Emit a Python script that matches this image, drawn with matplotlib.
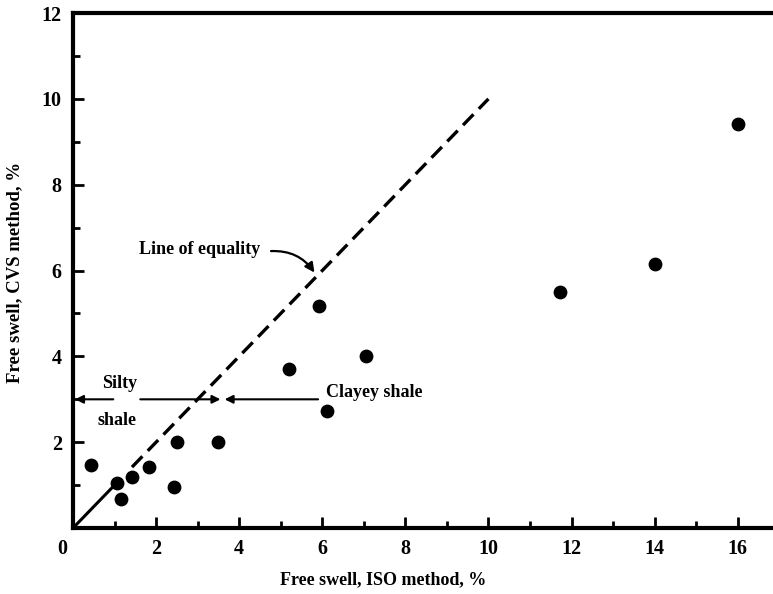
import matplotlib
matplotlib.use("Agg")
import matplotlib.pyplot as plt
from matplotlib.ticker import MultipleLocator

iso = [0.44, 1.07, 1.16, 1.42, 1.84, 2.44, 2.51, 3.49, 5.2, 5.93, 6.12, 7.05, 11.73, 14.0, 16.0]
cvs = [1.48, 1.05, 0.67, 1.2, 1.42, 0.95, 2.0, 2.0, 3.7, 5.18, 2.72, 4.0, 5.5, 6.16, 9.42]

eq_solid = [0.0, 1.05]
eq_dashed = [1.42, 10.0]

x_ticks = [2, 4, 6, 8, 10, 12, 14, 16]
y_ticks = [2, 4, 6, 8, 10, 12]

plt.rcParams['font.family'] = ['Liberation Serif', 'DejaVu Serif']
plt.rcParams['font.weight'] = 'bold'

fig = plt.figure(figsize=(7.73, 5.94), dpi=100)
ax = fig.add_axes([0.0944, 0.111, 0.9056, 0.867])
ax.set_xlim(0, 16.85)
ax.set_ylim(0, 12)

ax.plot(eq_solid, eq_solid, color='black', lw=2.2, solid_capstyle='butt')
ax.plot(eq_dashed, eq_dashed, color='black', lw=2.4, dashes=[4.5, 2.3])

ax.scatter(iso, cvs, s=80, color='black', zorder=3)

for side in ['left', 'bottom', 'top']:
    ax.spines[side].set_linewidth(3)
ax.spines['right'].set_visible(False)

ax.set_xticks(x_ticks)
ax.set_yticks(y_ticks)
ax.xaxis.set_minor_locator(MultipleLocator(1))
ax.yaxis.set_minor_locator(MultipleLocator(1))
ax.tick_params(which='major', direction='in', length=8, width=2, labelsize=14.5, pad=8)
ax.tick_params(which='minor', direction='in', length=5, width=2)
ax.tick_params(top=False, right=False, which='both')
for lab in ax.get_xticklabels() + ax.get_yticklabels():
    lab.set_fontweight('bold')

ax.text(-0.25, -0.25, '0', ha='center', va='top', fontsize=14.5, fontweight='bold')

fig.text(383 / 773, 1 - 580 / 594, 'Free swell, ISO method, %', ha='center', va='center',
         fontsize=13, fontweight='bold')
fig.text(15 / 773, 1 - 272 / 594, 'Free swell, CVS method, %', ha='center', va='center',
         rotation=90, fontsize=13.5, fontweight='bold')

# Line of equality annotation
ax.annotate('', xy=(5.85, 5.9), xytext=(4.7, 6.45),
            arrowprops=dict(arrowstyle='-|>', color='black', lw=1.6,
                            connectionstyle='arc3,rad=-0.3', mutation_scale=14))
ax.text(3.05, 6.48, 'Line of equality', ha='center', va='center', fontsize=13, fontweight='bold')

# Silty shale
ax.annotate('', xy=(0.05, 3.0), xytext=(0.97, 3.0),
            arrowprops=dict(arrowstyle='-|>', color='black', lw=1.5, mutation_scale=12,
                            shrinkA=0, shrinkB=0))
ax.annotate('', xy=(3.55, 3.0), xytext=(1.62, 3.0),
            arrowprops=dict(arrowstyle='-|>', color='black', lw=1.5, mutation_scale=12,
                            shrinkA=0, shrinkB=0))
ax.text(1.12, 3.38, 'Silty', ha='center', va='center', fontsize=13, fontweight='bold')
ax.text(1.05, 2.5, 'shale', ha='center', va='center', fontsize=13, fontweight='bold')

# Clayey shale
ax.annotate('', xy=(3.65, 3.0), xytext=(5.9, 3.0),
            arrowprops=dict(arrowstyle='-|>', color='black', lw=1.5, mutation_scale=12,
                            shrinkA=0, shrinkB=0))
ax.text(6.1, 3.17, 'Clayey shale', ha='left', va='center', fontsize=13, fontweight='bold')

fig.savefig('out.png', dpi=100)
